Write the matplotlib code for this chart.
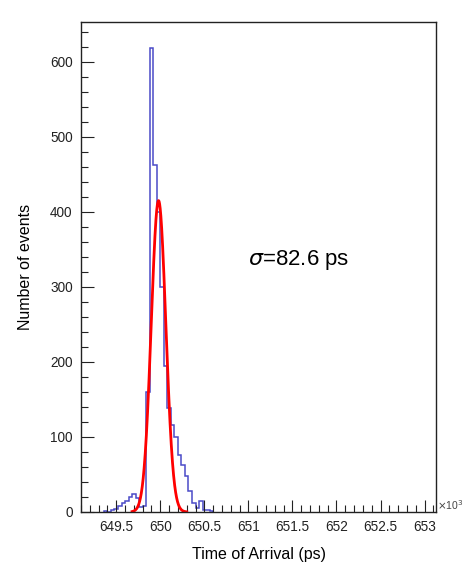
import numpy as np
import matplotlib
matplotlib.use("Agg")
import matplotlib.pyplot as plt
from matplotlib.ticker import MultipleLocator

plt.rcParams['font.family'] = ['Liberation Sans', 'DejaVu Sans']

# Histogram (x in units of 10^3 ps)
bin_edges = [649.36, 649.40, 649.44, 649.48, 649.52, 649.56, 649.60, 649.64, 649.68,
             649.72, 649.76, 649.80, 649.84, 649.88, 649.92, 649.96, 650.00, 650.04,
             650.08, 650.12, 650.16, 650.20, 650.24, 650.28, 650.32, 650.36, 650.40,
             650.44, 650.48, 650.52, 650.56, 650.60]
counts = [1, 0, 2, 4, 8, 12, 14, 20, 24,
          18, 6, 8, 160, 619, 463, 400, 300, 195,
          138, 116, 100, 76, 63, 48, 28, 12,
          5, 15, 3, 2, 1]

# Gaussian fit
fit_amp = 415.0
fit_mean = 649.98
fit_sigma = 0.0826
fit_range = (649.68, 650.30)

x_ticks = [649.5, 650, 650.5, 651, 651.5, 652, 652.5, 653]
x_ticklabels = ['649.5', '650', '650.5', '651', '651.5', '652', '652.5', '653']
y_ticks = [0, 100, 200, 300, 400, 500, 600]

fig = plt.figure(figsize=(4.64, 5.72), dpi=100)
ax = fig.add_axes([0.1746, 0.1049, 0.7651, 0.8566])

ax.stairs(counts, bin_edges, color='#4a4ac8', linewidth=1.1)

xf = np.linspace(fit_range[0], fit_range[1], 400)
yf = fit_amp * np.exp(-0.5 * ((xf - fit_mean) / fit_sigma) ** 2)
ax.plot(xf, yf, color='#ff0000', linewidth=2.0)

ax.set_xlim(649.1, 653.13)
ax.set_ylim(0, 653)

ax.set_xticks(x_ticks)
ax.set_xticklabels(x_ticklabels)
ax.set_yticks(y_ticks)
ax.xaxis.set_minor_locator(MultipleLocator(0.1))
ax.yaxis.set_minor_locator(MultipleLocator(20))
ax.tick_params(which='major', direction='in', length=9, width=0.8, labelsize=9.8,
               colors='#222222', pad=6)
ax.tick_params(which='minor', direction='in', length=5, width=0.8, colors='#222222')
for s in ax.spines.values():
    s.set_linewidth(1.0)
    s.set_color('#222222')

ax.set_xlabel('Time of Arrival (ps)', fontsize=11.5, labelpad=9)
ax.set_ylabel('Number of events', fontsize=11.5, labelpad=12)

ax.text(1.003, 0.0, r'$\times$10$^{3}$', transform=ax.transAxes, fontsize=7.5,
        color='#444444', ha='left', va='bottom')

ax.text(0.47, 0.515, r'$\sigma$=82.6 ps', transform=ax.transAxes, fontsize=16,
        ha='left', va='center')

fig.savefig('out.png', dpi=100)
